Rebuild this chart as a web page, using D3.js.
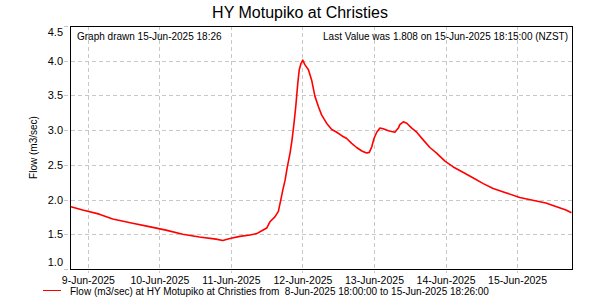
<!DOCTYPE html>
<html>
<head>
<meta charset="utf-8">
<script src="https://cdn.jsdelivr.net/npm/d3@7"></script>
<style>
  body { margin: 0; background: #fff; }
  svg { display: block; font-family: "Liberation Sans", Arial, sans-serif; }
</style>
</head>
<body>
<svg id="chart" width="600" height="300"></svg>
<script>
// flow readings (m3/sec)
const times = [
  '2025-06-08 18:00', '2025-06-08 22:15', '2025-06-09 03:50', '2025-06-09 08:20',
  '2025-06-09 15:00', '2025-06-09 20:35', '2025-06-10 02:10', '2025-06-10 07:50',
  '2025-06-10 13:25', '2025-06-10 19:00', '2025-06-10 21:15', '2025-06-10 23:40',
  '2025-06-11 03:00', '2025-06-11 06:25', '2025-06-11 08:40', '2025-06-11 10:20',
  '2025-06-11 12:00', '2025-06-11 13:05', '2025-06-11 14:45', '2025-06-11 15:55',
  '2025-06-11 16:30', '2025-06-11 17:25', '2025-06-11 18:10', '2025-06-11 18:55',
  '2025-06-11 19:50', '2025-06-11 20:30', '2025-06-11 21:10', '2025-06-11 21:45',
  '2025-06-11 22:25', '2025-06-11 22:55', '2025-06-11 23:30', '2025-06-12 00:05',
  '2025-06-12 00:50', '2025-06-12 02:00', '2025-06-12 03:05', '2025-06-12 04:10',
  '2025-06-12 05:20', '2025-06-12 06:25', '2025-06-12 08:05', '2025-06-12 09:50',
  '2025-06-12 11:30', '2025-06-12 13:10', '2025-06-12 14:50', '2025-06-12 16:30',
  '2025-06-12 18:10', '2025-06-12 19:55', '2025-06-12 21:30', '2025-06-12 22:25',
  '2025-06-12 23:15', '2025-06-13 00:00', '2025-06-13 00:55', '2025-06-13 02:00',
  '2025-06-13 03:05', '2025-06-13 04:50', '2025-06-13 07:00', '2025-06-13 08:10',
  '2025-06-13 08:40', '2025-06-13 09:50', '2025-06-13 11:00', '2025-06-13 12:40',
  '2025-06-13 14:20', '2025-06-13 16:30', '2025-06-13 18:45', '2025-06-13 21:00',
  '2025-06-13 23:55', '2025-06-14 02:35', '2025-06-14 06:00', '2025-06-14 09:20',
  '2025-06-14 12:40', '2025-06-14 16:00', '2025-06-14 19:25', '2025-06-15 00:55',
  '2025-06-15 05:15', '2025-06-15 09:40', '2025-06-15 13:00', '2025-06-15 16:25',
  '2025-06-15 18:15'
];
const flows = [
  1.90, 1.85, 1.79, 1.72,
  1.66, 1.61, 1.56, 1.50,
  1.46, 1.43, 1.41, 1.44,
  1.47, 1.49, 1.51, 1.55,
  1.59, 1.68, 1.75, 1.83,
  1.95, 2.14, 2.28, 2.47,
  2.67, 2.86, 3.10, 3.34,
  3.67, 3.87, 3.96, 4.01,
  3.94, 3.87, 3.72, 3.49,
  3.34, 3.22, 3.10, 3.01,
  2.97, 2.92, 2.88, 2.81,
  2.75, 2.70, 2.67, 2.68,
  2.76, 2.88, 2.97, 3.03,
  3.02, 2.99, 2.97, 3.03,
  3.08, 3.12, 3.10, 3.03,
  2.97, 2.86, 2.75, 2.67,
  2.55, 2.47, 2.39, 2.31,
  2.23, 2.16, 2.11, 2.03,
  1.99, 1.95, 1.90, 1.85,
  1.81
];
const yTicks = [1.0, 1.5, 2.0, 2.5, 3.0, 3.5, 4.0, 4.5];
const xTicks = ['2025-06-09 00:00', '2025-06-10 00:00', '2025-06-11 00:00', '2025-06-12 00:00',
  '2025-06-13 00:00', '2025-06-14 00:00', '2025-06-15 00:00'];
const periodStart = '2025-06-08 18:00';
const periodEnd = '2025-06-15 18:26';

const TITLE = 'HY Motupiko at Christies';
const DRAWN = 'Graph drawn 15-Jun-2025 18:26';
const LAST = 'Last Value was 1.808 on 15-Jun-2025 18:15:00 (NZST)';
const Y_LABEL = 'Flow (m3/sec)';
const LEGEND = 'Flow (m3/sec) at HY Motupiko at Christies from  8-Jun-2025 18:00:00 to 15-Jun-2025 18:26:00';

const MARGIN = { top: 26, right: 28, bottom: 31, left: 70 };
const WIDTH = 600, HEIGHT = 300;
const LINE_COLOR = '#ff0000';
const GRID_COLOR = '#c8c8c8';
const TEXT_COLOR = '#000';

const parse = d3.timeParse('%Y-%m-%d %H:%M');
const data = times.map((t, i) => ({ t: parse(t), v: flows[i] }));

const svg = d3.select('#chart');

const x = d3.scaleTime()
    .domain([parse(periodStart), parse(periodEnd)])
    .range([MARGIN.left, WIDTH - MARGIN.right]);

const y = d3.scaleLinear()
    .domain([1.0, 4.5])
    .range([HEIGHT - MARGIN.bottom, MARGIN.top]);

// title
svg.append('text')
    .attr('x', WIDTH / 2)
    .attr('y', 18)
    .attr('text-anchor', 'middle')
    .style('font-size', '16px')
    .style('fill', TEXT_COLOR)
    .text(TITLE);

// gridlines
const xDates = xTicks.map(parse);
svg.append('g')
    .selectAll('line')
    .data(xDates)
    .enter().append('line')
    .attr('x1', d => Math.round(x(d)) + 0.5)
    .attr('x2', d => Math.round(x(d)) + 0.5)
    .attr('y1', MARGIN.top)
    .attr('y2', HEIGHT - MARGIN.bottom + 4)
    .attr('stroke', GRID_COLOR)
    .attr('stroke-dasharray', '4,3');

svg.append('g')
    .selectAll('line')
    .data(yTicks)
    .enter().append('line')
    .attr('x1', MARGIN.left - 6)
    .attr('x2', WIDTH - MARGIN.right)
    .attr('y1', d => Math.round(y(d)) + 0.5)
    .attr('y2', d => Math.round(y(d)) + 0.5)
    .attr('stroke', GRID_COLOR)
    .attr('stroke-dasharray', '4,3');

// axes (labels only, ticks drawn with gridlines)
const xAxis = d3.axisBottom(x)
    .tickValues(xDates)
    .tickFormat(d3.timeFormat('%-d-%b-%Y'))
    .tickSize(0)
    .tickPadding(0);

const xAxisGroup = svg.append('g')
    .attr('transform', `translate(0,${HEIGHT - MARGIN.bottom})`)
    .call(xAxis);
xAxisGroup.select('.domain').remove();
xAxisGroup.selectAll('text')
    .attr('y', 14.5)
    .attr('dy', null)
    .style('font-size', '10.5px')
    .style('font-family', '"Liberation Sans", Arial, sans-serif')
    .attr('fill', TEXT_COLOR);

const yAxis = d3.axisLeft(y)
    .tickValues(yTicks)
    .tickFormat(d3.format('.1f'))
    .tickSize(0)
    .tickPadding(7);

const yAxisGroup = svg.append('g')
    .attr('transform', `translate(${MARGIN.left},0)`)
    .call(yAxis);
yAxisGroup.select('.domain').remove();
yAxisGroup.selectAll('text')
    .style('font-size', '11px')
    .style('font-family', '"Liberation Sans", Arial, sans-serif')
    .attr('fill', TEXT_COLOR)
    .attr('dy', d => d === 4.5 ? '0.9em' : d === 1.0 ? '-0.3em' : '0.32em');

// y axis label
svg.append('text')
    .attr('transform', 'rotate(-90)')
    .attr('x', -(MARGIN.top + HEIGHT - MARGIN.bottom) / 2)
    .attr('y', 37)
    .attr('text-anchor', 'middle')
    .style('font-size', '10px')
    .style('fill', TEXT_COLOR)
    .text(Y_LABEL);

// flow line
const line = d3.line()
    .x(d => x(d.t))
    .y(d => y(d.v));

svg.append('path')
    .datum(data)
    .attr('d', line)
    .attr('fill', 'none')
    .attr('stroke', LINE_COLOR)
    .attr('stroke-width', 1.6)
    .attr('stroke-linejoin', 'round');

// plot border
svg.append('rect')
    .attr('x', MARGIN.left + 0.5)
    .attr('y', MARGIN.top + 0.5)
    .attr('width', WIDTH - MARGIN.left - MARGIN.right)
    .attr('height', HEIGHT - MARGIN.top - MARGIN.bottom)
    .attr('fill', 'none')
    .attr('stroke', '#000')
    .attr('stroke-width', 1);

// notes inside plot
svg.append('text')
    .attr('x', MARGIN.left + 7)
    .attr('y', MARGIN.top + 14)
    .style('font-size', '10px')
    .style('fill', TEXT_COLOR)
    .text(DRAWN);

svg.append('text')
    .attr('x', WIDTH - MARGIN.right - 4)
    .attr('y', MARGIN.top + 14)
    .attr('text-anchor', 'end')
    .style('font-size', '10px')
    .style('fill', TEXT_COLOR)
    .text(LAST);

// legend
svg.append('line')
    .attr('x1', 43)
    .attr('x2', 61)
    .attr('y1', 290.5)
    .attr('y2', 290.5)
    .attr('stroke', LINE_COLOR)
    .attr('stroke-width', 1);

svg.append('text')
    .attr('x', 70)
    .attr('y', 294.5)
    .style('font-size', '10px')
    .style('white-space', 'pre')
    .style('fill', TEXT_COLOR)
    .text(LEGEND);
</script>
</body>
</html>
